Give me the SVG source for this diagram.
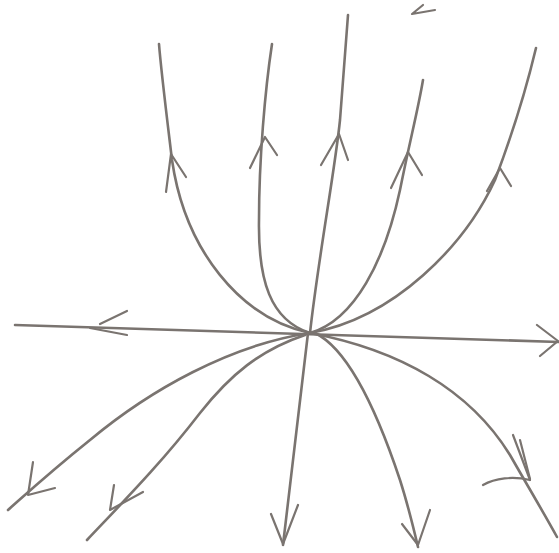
<svg xmlns="http://www.w3.org/2000/svg" width="559" height="553" viewBox="0 0 559 553">
<style>
.t{fill:none;stroke:#7a7470;stroke-width:2.6;stroke-linecap:round;stroke-linejoin:round}
.a{fill:none;stroke:#7a7470;stroke-width:2.2;stroke-linecap:round;stroke-linejoin:round}
</style>
<rect width="559" height="553" fill="#ffffff"/>
<g id="connectors">
<path class="t" d="M15,325 L559,342"/>
<polyline class="a" points="127,311 100,324"/>
<polyline class="a" points="127,335 90,328"/>
<polyline class="a" points="537,325 558,341 540,356"/>
<path class="t" d="M310,333 C240,318 185,250 172,160 C166,110 161,70 159,44"/>
<polyline class="a" points="166,192 171,154 186,177"/>
<path class="t" d="M310,333 C270,320 258,280 259,220 C259,160 265,90 272,44"/>
<polyline class="a" points="250,168 265,137 277,155"/>
<path class="t" d="M310,333 C318,260 335,170 340,120 C343,80 346,40 348,15"/>
<polyline class="a" points="321,165 339,134 348,160"/>
<path class="t" d="M310,333 C355,320 385,260 400,190 C410,140 418,110 423,80"/>
<polyline class="a" points="391,188 408,152 422,175"/>
<path class="t" d="M310,333 C395,318 465,245 495,180 C512,135 526,90 536,48"/>
<polyline class="a" points="487,191 500,168 511,186"/>
<polyline class="a" points="423,5 412,14 435,10"/>
<path class="t" d="M310,333 C230,345 150,390 90,440 C50,472 25,495 8,510"/>
<polyline class="a" points="33,462 28,495 55,488"/>
<path class="t" d="M305,335 C260,350 230,375 200,413 C160,465 120,505 87,540"/>
<polyline class="a" points="114,485 110,510 143,492"/>
<path class="t" d="M308,333 C300,400 292,470 283,545"/>
<polyline class="a" points="271,514 283,544 298,505"/>
<path class="t" d="M315,333 C350,350 380,420 400,480 C408,505 414,530 418,547"/>
<polyline class="a" points="402,524 418,545 430,510"/>
<path class="t" d="M310,333 C400,350 470,390 510,455 C530,490 545,515 557,537"/>
<polyline class="a" points="513,435 530,480"/>
<polyline class="a" points="520,440 530,479"/>
<path class="a" d="M483,485 C495,478 513,476 530,480"/>
</g>
</svg>
